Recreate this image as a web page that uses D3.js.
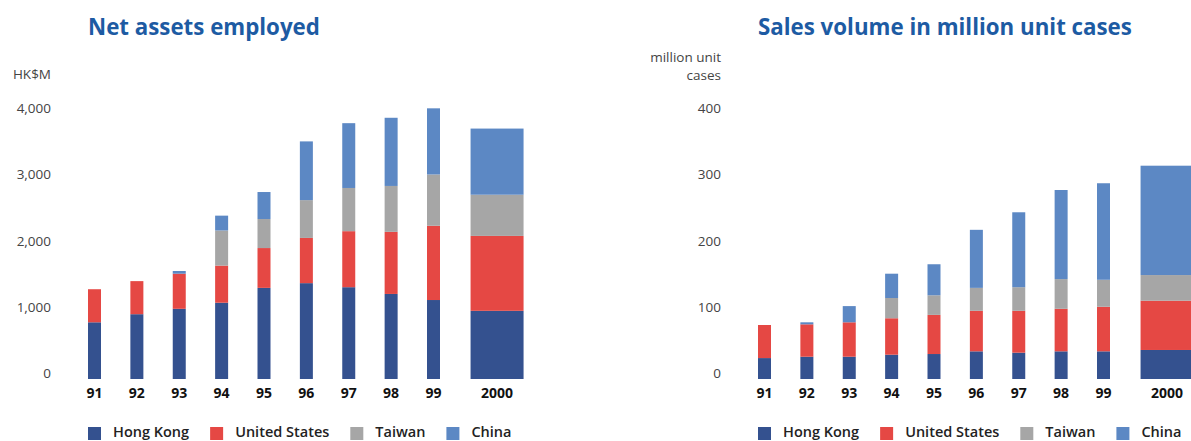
<!DOCTYPE html>
<html>
<head>
<meta charset="utf-8">
<script src="https://cdn.jsdelivr.net/npm/d3@7"></script>
<style>
  body { margin: 0; background: #fff; }
  svg { display: block; font-family: "Open Sans", "Noto Sans", sans-serif; }
</style>
</head>
<body>
<div id="chart"></div>
<script>
const years = ['91', '92', '93', '94', '95', '96', '97', '98', '99', '2000'];
const regions = ['Hong Kong', 'United States', 'Taiwan', 'China'];

// Net assets employed, HK$M
const assetsHongKong = [840, 960, 1040, 1130, 1350, 1420, 1360, 1260, 1170, 1010];
const assetsUS       = [490, 490, 520, 550, 590, 670, 830, 920, 1100, 1110];
const assetsTaiwan   = [0, 0, 0, 520, 430, 560, 640, 680, 760, 610];
const assetsChina    = [0, 0, 40, 220, 400, 870, 960, 1010, 980, 980];
const assetsTicks = [0, 1000, 2000, 3000, 4000];

// Sales volume, million unit cases
const salesHongKong = [31, 33, 33, 36, 37, 41, 39, 41, 41, 43];
const salesUS       = [49, 48, 51, 54, 58, 60, 62, 63, 66, 73];
const salesTaiwan   = [0, 0, 0, 30, 29, 34, 35, 44, 40, 38];
const salesChina    = [0, 3, 24, 36, 46, 86, 111, 132, 143, 162];
const salesTicks = [0, 100, 200, 300, 400];

const colors = ['#34518f', '#e54844', '#a6a6a6', '#5c88c4'];

const W = 1191, H = 441;
const svg = d3.select('#chart').append('svg')
    .attr('width', W)
    .attr('height', H);

function drawPanel(opts) {
    const g = svg.append('g').attr('transform', `translate(${opts.dx},0)`);

    const rows = years.map((yr, i) => {
        const row = { year: yr };
        regions.forEach((r, k) => { row[r] = opts.series[k][i]; });
        return row;
    });
    const stacked = d3.stack().keys(regions)(rows);

    const y = d3.scaleLinear().domain([0, opts.max]).range([379, 109]);
    // tick labels sit a little above their gridline value
    const yLabel = d3.scaleLinear().domain([0, opts.max]).range([373, 108]);
    // last category sits a half slot further out and is drawn wide
    const slot = d3.scaleLinear().domain([0, 9.5]).range([94.5, 94.5 + 9.5 * 42.375]);
    const pos = i => (i === years.length - 1 ? 9.5 : i);
    const bw = i => (i === years.length - 1 ? 53 : 13);

    g.append('text')
        .attr('x', 88)
        .attr('y', 35)
        .attr('fill', '#1d5ba3')
        .attr('font-weight', 700)
        .attr('font-size', 22.3)
        .text(opts.title);

    opts.unit.forEach((u, k) => {
        g.append('text')
            .attr('x', 51)
            .attr('y', opts.unitY + k * 18)
            .attr('text-anchor', 'end')
            .attr('dominant-baseline', 'central')
            .attr('fill', '#444')
            .attr('font-size', 13.5)
            .text(u);
    });

    g.selectAll('.tick-label')
        .data(opts.ticks)
        .join('text')
        .attr('class', 'tick-label')
        .attr('x', 51)
        .attr('y', d => yLabel(d))
        .attr('text-anchor', 'end')
        .attr('dominant-baseline', 'central')
        .attr('fill', '#444')
        .attr('font-size', 13.5)
        .text(d => opts.fmt(d));

    g.selectAll('.layer')
        .data(stacked)
        .join('g')
        .attr('class', 'layer')
        .attr('fill', (d, k) => colors[k])
        .selectAll('rect')
        .data(d => d.map((v, i) => ({ v, i })))
        .join('rect')
        .attr('x', d => slot(pos(d.i)) - bw(d.i) / 2)
        .attr('width', d => bw(d.i))
        .attr('y', d => y(d.v[1]))
        .attr('height', d => y(d.v[0]) - y(d.v[1]));

    g.selectAll('.year-label')
        .data(years)
        .join('text')
        .attr('class', 'year-label')
        .attr('x', (d, i) => slot(pos(i)))
        .attr('y', 398)
        .attr('text-anchor', 'middle')
        .attr('font-weight', 700)
        .attr('font-size', 14)
        .attr('fill', '#111')
        .text(d => d);

    // legend
    const legend = g.append('g').attr('transform', 'translate(88,427)');
    let lx = 0;
    regions.forEach((r, k) => {
        legend.append('rect')
            .attr('x', lx)
            .attr('y', 0)
            .attr('width', 13)
            .attr('height', 13)
            .attr('fill', colors[k]);
        const t = legend.append('text')
            .attr('x', lx + 25)
            .attr('y', 10)
            .attr('font-weight', 600)
            .attr('font-size', 14.5)
            .attr('fill', '#222')
            .text(r);
        lx += 25 + t.node().getComputedTextLength() + 21;
    });
}

drawPanel({
    dx: 0,
    title: 'Net assets employed',
    unit: ['HK$M'],
    unitY: 74,
    max: 4000,
    ticks: assetsTicks,
    fmt: d3.format(','),
    series: [assetsHongKong, assetsUS, assetsTaiwan, assetsChina]
});

drawPanel({
    dx: 670,
    title: 'Sales volume in million unit cases',
    unit: ['million unit', 'cases'],
    unitY: 57,
    max: 400,
    ticks: salesTicks,
    fmt: d3.format(','),
    series: [salesHongKong, salesUS, salesTaiwan, salesChina]
});
</script>
</body>
</html>
